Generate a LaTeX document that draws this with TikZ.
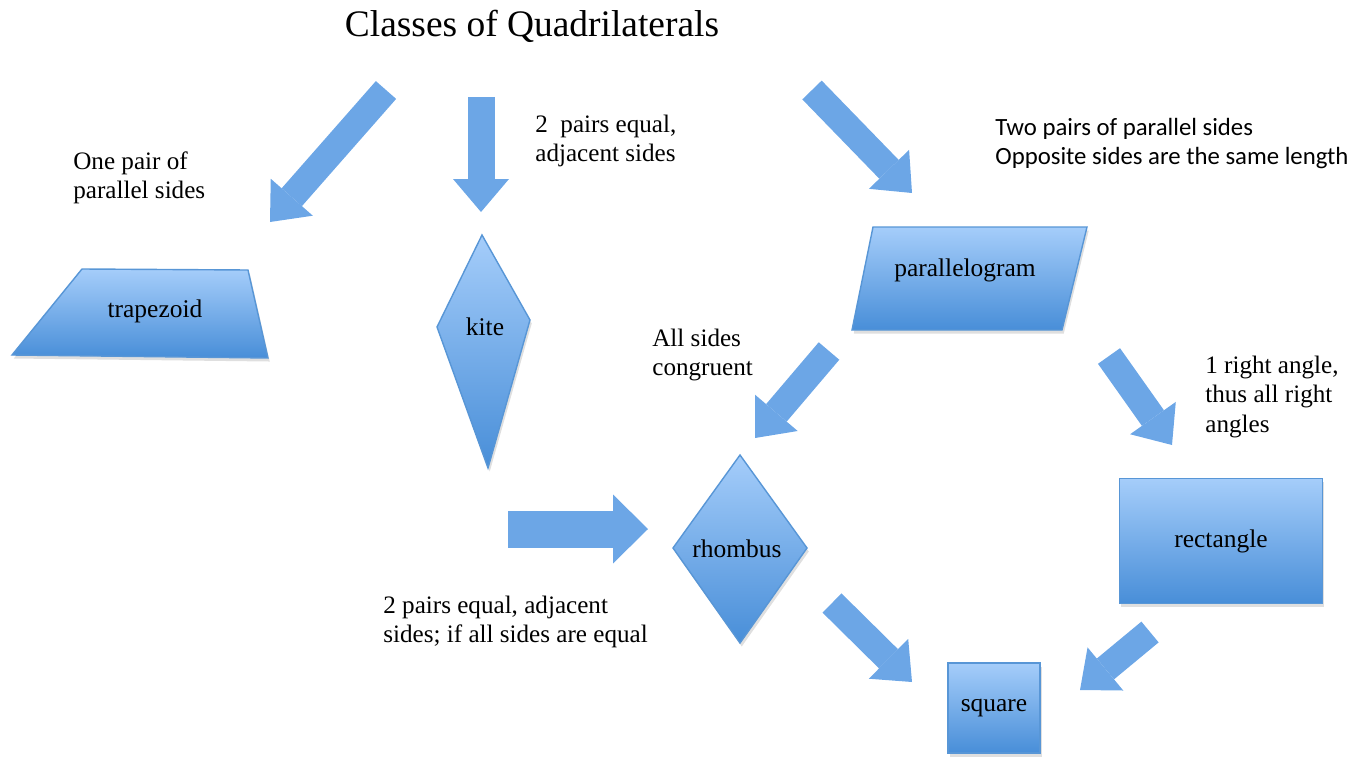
\documentclass[tikz,border=0pt]{standalone}
\usepackage{fontspec}
\setmainfont{Liberation Serif}
\newfontfamily\notefont{Carlito}
\usepackage{tikz}
\usetikzlibrary{arrows.meta,shadows,positioning}

\definecolor{shapetop}{RGB}{165,205,250}
\definecolor{shapebot}{RGB}{72,142,216}
\definecolor{shapeedge}{RGB}{88,150,214}
\definecolor{arrowblue}{RGB}{108,166,230}

\begin{document}
\begin{tikzpicture}[x=0.02cm,y=-0.02cm,
	quadshape/.style={top color=shapetop,bottom color=shapebot,draw=shapeedge,line width=0.8pt,
		drop shadow={opacity=0.25,shadow xshift=1pt,shadow yshift=-2pt}},
	shapelabel/.style={font=\fontsize{14.5}{16.5}\selectfont,inner sep=0pt},
	sidenote/.style={font=\fontsize{14.3}{16.6}\selectfont,align=left,anchor=north west,inner sep=0pt},
	blockarrow/.style={draw=arrowblue,line width=0.54cm,-{Triangle[width=1.12cm,length=0.66cm,line width=0pt]}},
	widearrow/.style={draw=arrowblue,line width=0.74cm,-{Triangle[width=1.38cm,length=0.7cm,line width=0pt]}}]
			\useasboundingbox (0,0) rectangle (1369,757);
			
			% Title
			\node[font=\fontsize{21.3}{24}\selectfont,anchor=base] (title) at (532,37) {Classes of Quadrilaterals};
			
			% Trapezoid
			\shade[quadshape] (82,269) -- (248,270) -- (268,358) -- (12,355) -- cycle;
			\node[shapelabel] (trapezoid) at (155,311) {trapezoid};
			\node[sidenote] (trapnote) at (73,151) {One pair of\\parallel sides};
			\coordinate (trapTail) at (386,90);
			\coordinate (trapTip) at (270,222);
			\draw[blockarrow] (trapTail) -- (trapTip);
			
			% Kite
			\shade[quadshape] (482,235) -- (530,320) -- (488,468) -- (437,327) -- cycle;
			\node[shapelabel] (kite) at (485,327) {kite};
			\node[sidenote] (kitenote) at (535,115) {2\ \ pairs equal,\\adjacent sides};
			\coordinate (kiteTail) at (481,97);
			\coordinate (kiteTip) at (481,212);
			\draw[blockarrow] (kiteTail) -- (kiteTip);
			
			% Parallelogram
			\shade[quadshape] (873,227) -- (1087,227) -- (1062,330) -- (852,330) -- cycle;
			\node[shapelabel] (parallelogram) at (965,270) {parallelogram};
			\node[sidenote,font=\notefont\fontsize{14.1}{16.6}\selectfont] (paranote) at (995,118) {Two pairs of parallel sides\\Opposite sides are the same length};
			\coordinate (paraTail) at (812,90);
			\coordinate (paraTip) at (912,193);
			\draw[blockarrow] (paraTail) -- (paraTip);
			
			% Rhombus
			\shade[quadshape] (740,455) -- (807,548) -- (740,643) -- (673,548) -- cycle;
			\node[shapelabel] (rhombus) at (737,549) {rhombus};
			\node[sidenote] (rhombnote) at (652,329) {All sides\\congruent};
			\node[sidenote] (kitenote2) at (383,596) {2 pairs equal, adjacent\\sides; if all sides are equal};
			\coordinate (rhombTail) at (829,351);
			\coordinate (rhombTip) at (755,438);
			\draw[blockarrow] (rhombTail) -- (rhombTip);
			\coordinate (kiteRhTail) at (508,529);
			\coordinate (kiteRhTip) at (648,529);
			\draw[widearrow] (kiteRhTail) -- (kiteRhTip);
			
			% Rectangle
			\node[quadshape,shapelabel,minimum width=4.06cm,minimum height=2.5cm] (rectangle) at (1221,541) {rectangle};
			\node[sidenote] (rectnote) at (1205,356) {1 right angle,\\thus all right\\angles};
			\coordinate (rectTail) at (1109,356);
			\coordinate (rectTip) at (1172,445);
			\draw[blockarrow] (rectTail) -- (rectTip);
			
			% Square
			\node[quadshape,shapelabel,minimum width=1.84cm,minimum height=1.8cm] (square) at (994,708) {square};
			\coordinate (sqTailA) at (832,603);
			\coordinate (sqTipA) at (912,682);
			\draw[blockarrow] (sqTailA) -- (sqTipA);
			\coordinate (sqTailB) at (1150,632);
			\coordinate (sqTipB) at (1080,690);
			\draw[blockarrow] (sqTailB) -- (sqTipB);
		\end{tikzpicture}
\end{document}
